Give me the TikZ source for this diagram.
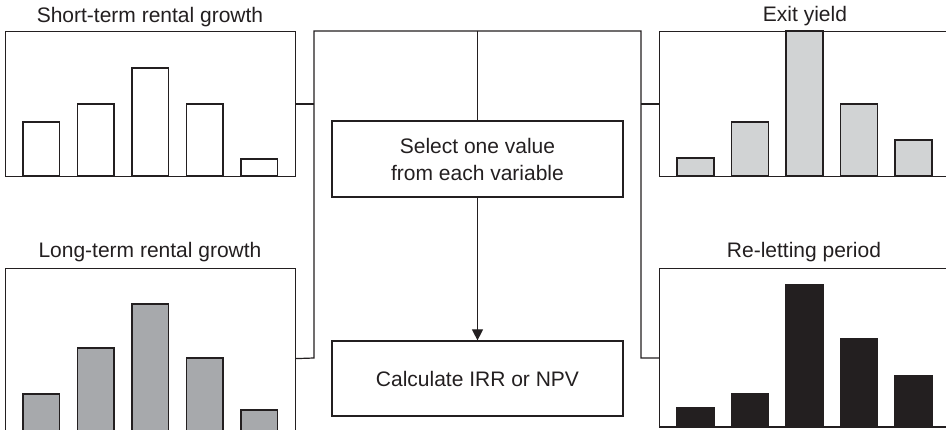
\documentclass[tikz,border=0pt]{standalone}
\usepackage{fontspec}
\setmainfont{Liberation Sans}
\usetikzlibrary{arrows.meta,calc}
\definecolor{ink}{HTML}{231F20}
\definecolor{midgrey}{HTML}{A7A9AC}
\definecolor{lightgrey}{HTML}{D1D3D4}
\tikzset{
  line/.style={draw=ink,line width=1.2pt},
  panel/.style={line,rectangle,anchor=north west,inner sep=0pt},
  bar/.style={line},
  title/.style={anchor=base,font=\fontsize{21}{25}\selectfont,text=ink},
  stepbox/.style={line,rectangle,minimum width=291pt,minimum height=76pt,
    align=center,font=\fontsize{21}{27}\selectfont,text=ink},
}
\begin{document}
\begin{tikzpicture}[x=1pt,y=-1pt]
\useasboundingbox (0,0) rectangle (946,430);

% variable panels
\node[panel,minimum width=290pt,minimum height=145pt] (stg) at (5,31) {};
\node[panel,minimum width=290pt,minimum height=180pt] (ltg) at (5,268) {};
\node[panel,minimum width=291pt,minimum height=145pt] (exy) at (659,31) {};
\node[panel,minimum width=291pt,minimum height=159pt] (rlp) at (659,268) {};

% panel titles
\node[title] (t1) at (150,23) {Short-term rental growth};
\node[title] (t2) at (150,258) {Long-term rental growth};
\node[title] (t3) at (805,22) {Exit yield};
\node[title] (t4) at (804,258) {Re-letting period};

% distributions
\foreach \x/\t in {23/122,77.5/104,132/68,186.5/104,241/159}
  \draw[bar,fill=white] (\x,176) rectangle ++(36.5,\t-176);
\foreach \x/\t in {23/394,77.5/348,132/304,186.5/358,241/410}
  \draw[bar,fill=midgrey] (\x,440) rectangle ++(36.5,\t-440);
\foreach \x/\t in {677/158,731.5/122,786/31,840.5/104,895/140}
  \draw[bar,fill=lightgrey] (\x,176) rectangle ++(37,\t-176);
\foreach \x/\t in {677/408,731.5/394,786/285,840.5/339,895/376}
  \draw[bar,fill=ink] (\x,427) rectangle ++(37,\t-427);
\draw[line] (659,427) -- (950,427);

% process steps
\node[stepbox] (sel) at (477.5,159) {Select one value\\from each variable};
\node[stepbox,minimum height=75pt] (calc) at (477.5,378.5) {Calculate IRR or NPV};

% collecting lines
\coordinate (tl) at (314,31);
\coordinate (tr) at (641,31);
\coordinate (bl) at (314,358);
\coordinate (br) at (641,358);
\coordinate (tc) at (477.5,31);
\draw[line] (ltg.east) -- (bl) -- (tl) -- (tr) -- (br) -- (br -| rlp.west);
\draw[line] (stg.east) -- (stg.east -| tl);
\draw[line] (exy.west) -- (exy.west -| tr);
\draw[line] (tc) -- (sel.north);
\draw[line,-{Triangle[width=11pt,length=11pt]}] (sel.south) -- (calc.north);
\end{tikzpicture}
\end{document}
